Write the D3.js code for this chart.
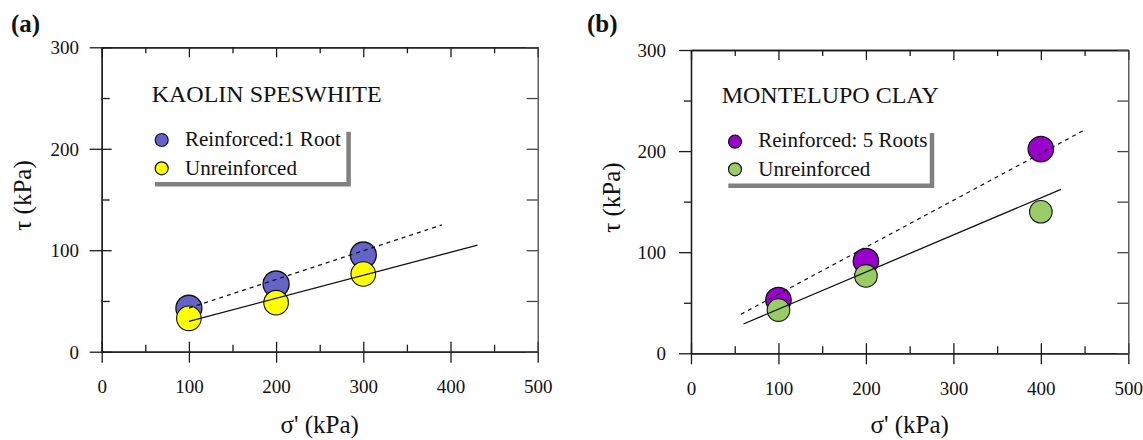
<!DOCTYPE html>
<html>
<head>
<meta charset="utf-8">
<script src="https://cdn.jsdelivr.net/npm/d3@7"></script>
<style>
  html, body { margin: 0; padding: 0; background: #fff; }
  svg { display: block; font-family: "Liberation Serif", "Times New Roman", serif; }
</style>
</head>
<body>
<svg id="chart" width="1143" height="440"></svg>
<script>
// ---------- data ----------
const xTicks = [0, 100, 200, 300, 400, 500];
const xMinorTicks = [50, 150, 250, 350, 450];
const yTicks = [0, 100, 200, 300];
const yMinorTicks = [50, 150, 250];

// Panel (a) Kaolin Speswhite
const sigmaA = [100, 200, 300];
const tauReinforcedA = [42.8, 66.7, 95.3];
const tauUnreinforcedA = [32.9, 48.3, 76.6];
const fitReinforcedA = [[100, 43], [390, 125]];
const fitUnreinforcedA = [[100, 30], [431, 105]];

// Panel (b) Montelupo Clay
const sigmaB = [100, 200, 400];
const tauReinforcedB = [52.7, 91.3, 202];
const tauUnreinforcedB = [42.8, 76.5, 140];
const fitReinforcedB = [[57, 38.6], [448.5, 220.2]];
const fitUnreinforcedB = [[60, 29], [423, 162.2]];

const panels = [
  {
    letter: "(a)", letterX: 11,
    title: "KAOLIN SPESWHITE",
    x0: 101.7, x1: 537.7, yTop: 47.3, yBot: 351.7,
    sigma: sigmaA, tauR: tauReinforcedA, tauU: tauUnreinforcedA,
    fitR: fitReinforcedA, fitU: fitUnreinforcedA,
    colR: "#6464c8", colU: "#ffff00", rR: 13, rU: 12.3,
    labR: "Reinforced:1 Root", labU: "Unreinforced",
    leftOutward: false, yLabGap: 22.7,
    titleX: 151.7, titleY: 101.7,
    legMarkX: 161.7, legY: [140, 168.3], legTextX: 185, legTextY: [146, 174.5],
    shadow: { left: 155, right: 348.6, top: 131.7, bottom: 184.2 }
  },
  {
    letter: "(b)", letterX: 587,
    title: "MONTELUPO CLAY",
    x0: 691, x1: 1128.3, yTop: 50, yBot: 353.3,
    sigma: sigmaB, tauR: tauReinforcedB, tauU: tauUnreinforcedB,
    fitR: fitReinforcedB, fitU: fitUnreinforcedB,
    colR: "#9900cc", colU: "#99cc66", rR: 12.7, rU: 11.3,
    labR: "Reinforced: 5 Roots", labU: "Unreinforced",
    leftOutward: true, yLabGap: 25,
    titleX: 721.7, titleY: 103.3,
    legMarkX: 735, legY: [141.7, 169.3], legTextX: 758.3, legTextY: [147.3, 176],
    shadow: { left: 728.3, right: 932, top: 133, bottom: 185.7 }
  }
];

const svg = d3.select("#chart");
const axisColor = "#1a1a1a";

function styleAxis(g) {
  g.selectAll("path.domain").attr("stroke", axisColor).attr("stroke-width", 1.3);
  g.selectAll(".tick line").attr("stroke", axisColor).attr("stroke-width", 1.3);
}

panels.forEach(p => {
  const g = svg.append("g");
  const x = d3.scaleLinear().domain([0, 500]).range([p.x0, p.x1]);
  const y = d3.scaleLinear().domain([0, 300]).range([p.yBot, p.yTop]);

  // ---- bottom axis: major ticks cross the axis, minor ticks inside ----
  const bMajor = g.append("g").attr("transform", `translate(0,${p.yBot})`)
    .call(d3.axisBottom(x).tickValues(xTicks).tickSizeInner(11).tickSizeOuter(0).tickPadding(0).tickFormat(d3.format("d")));
  bMajor.selectAll(".tick line").attr("y1", -10);
  bMajor.selectAll(".tick text").attr("y", 41.5).attr("dy", null)
    .attr("font-size", 19).attr("fill", "#111").attr("font-family", "Liberation Serif, serif");
  styleAxis(bMajor);
  const bMinor = g.append("g").attr("transform", `translate(0,${p.yBot})`)
    .call(d3.axisBottom(x).tickValues(xMinorTicks).tickSizeInner(-7).tickSizeOuter(0).tickFormat(""));
  styleAxis(bMinor);

  // ---- top axis: all ticks inside ----
  const tMajor = g.append("g").attr("transform", `translate(0,${p.yTop})`)
    .call(d3.axisTop(x).tickValues(xTicks).tickSizeInner(-10).tickSizeOuter(0).tickFormat(""));
  styleAxis(tMajor);
  const tMinor = g.append("g").attr("transform", `translate(0,${p.yTop})`)
    .call(d3.axisTop(x).tickValues(xMinorTicks).tickSizeInner(-6).tickSizeOuter(0).tickFormat(""));
  styleAxis(tMinor);

  // ---- left axis ----
  const lMajor = g.append("g").attr("transform", `translate(${p.x0},0)`)
    .call(d3.axisLeft(y).tickValues(yTicks).tickSizeInner(12).tickSizeOuter(0).tickPadding(0).tickFormat(d3.format("d")));
  if (!p.leftOutward) lMajor.selectAll(".tick line").attr("x1", 10);
  lMajor.selectAll(".tick text").attr("x", -p.yLabGap).attr("dy", "0.35em")
    .attr("font-size", 19).attr("fill", "#111").attr("font-family", "Liberation Serif, serif");
  styleAxis(lMajor);
  const lMinor = g.append("g").attr("transform", `translate(${p.x0},0)`)
    .call(d3.axisLeft(y).tickValues(yMinorTicks).tickSizeInner(p.leftOutward ? 7 : -8).tickSizeOuter(0).tickFormat(""));
  styleAxis(lMinor);

  // ---- right axis: inside ticks ----
  const rAll = g.append("g").attr("transform", `translate(${p.x1},0)`)
    .call(d3.axisRight(y).tickValues(yTicks.concat(yMinorTicks)).tickSizeInner(-11).tickSizeOuter(0).tickFormat(""));
  styleAxis(rAll);
  rAll.selectAll("path.domain, .tick line").attr("stroke", "#444");

  // ---- axis titles ----
  g.append("text")
    .attr("x", (p.x0 + p.x1) / 2).attr("y", 433)
    .attr("text-anchor", "middle").attr("font-size", 25).attr("fill", "#111")
    .text("σ' (kPa)");
  g.append("text")
    .attr("transform", `translate(${p.x0 - 71},${(p.yTop + p.yBot) / 2 - 4}) rotate(-90)`)
    .attr("text-anchor", "middle").attr("font-size", 25).attr("fill", "#111")
    .text("τ (kPa)");

  // ---- panel letter ----
  g.append("text").attr("x", p.letterX).attr("y", 32)
    .attr("font-size", 25).attr("font-weight", "bold").attr("fill", "#111")
    .text(p.letter);

  // ---- data points ----
  const ptsR = p.sigma.map((s, i) => ({ s, t: p.tauR[i] }));
  const ptsU = p.sigma.map((s, i) => ({ s, t: p.tauU[i] }));
  g.append("g").selectAll("circle").data(ptsR).join("circle")
    .attr("cx", d => x(d.s)).attr("cy", d => y(d.t)).attr("r", p.rR)
    .attr("fill", p.colR).attr("stroke", "#111").attr("stroke-width", 1.3);
  g.append("g").selectAll("circle").data(ptsU).join("circle")
    .attr("cx", d => x(d.s)).attr("cy", d => y(d.t)).attr("r", p.rU)
    .attr("fill", p.colU).attr("stroke", "#111").attr("stroke-width", 1.1);

  // ---- fitted envelopes ----
  const line = d3.line().x(d => x(d[0])).y(d => y(d[1]));
  g.append("path").datum(p.fitR).attr("d", line)
    .attr("fill", "none").attr("stroke", "#111").attr("stroke-width", 1.2)
    .attr("stroke-dasharray", "4,4");
  g.append("path").datum(p.fitU).attr("d", line)
    .attr("fill", "none").attr("stroke", "#111").attr("stroke-width", 1.3);

  // ---- legend ----
  g.append("text").attr("x", p.titleX).attr("y", p.titleY)
    .attr("font-size", 24).attr("fill", "#111").text(p.title);
  const sh = p.shadow;
  g.append("path")
    .attr("d", `M${sh.left},${sh.bottom} H${sh.right} V${sh.top}`)
    .attr("fill", "none").attr("stroke", "#808080").attr("stroke-width", 4.5)
    .attr("stroke-linejoin", "miter");
  const legItems = [
    { col: p.colR, lab: p.labR },
    { col: p.colU, lab: p.labU }
  ];
  legItems.forEach((it, i) => {
    g.append("circle").attr("cx", p.legMarkX).attr("cy", p.legY[i]).attr("r", 6.5)
      .attr("fill", it.col).attr("stroke", "#111").attr("stroke-width", 1.2);
    g.append("text").attr("x", p.legTextX).attr("y", p.legTextY[i])
      .attr("font-size", 21).attr("fill", "#111").text(it.lab);
  });
});
</script>
</body>
</html>
